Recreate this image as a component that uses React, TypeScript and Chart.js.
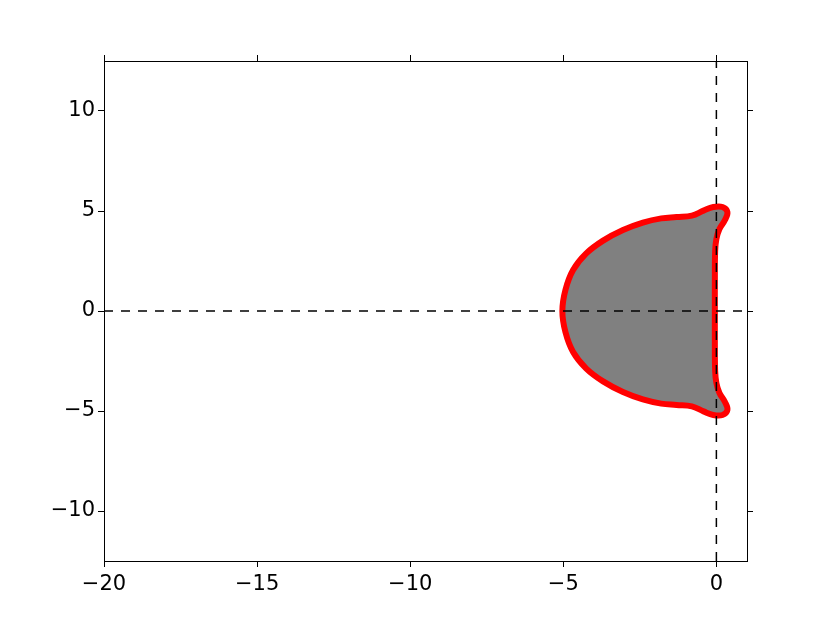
import React, { useEffect, useRef } from "react";
import { Chart, registerables } from "chart.js";

Chart.register(...registerables);

const xTickValues = [-20, -15, -10, -5, 0];
const yTickValues = [-10, -5, 0, 5, 10];

// Boundary of the region (closed path)
const shapeX = [
  -0.05, -0.05, -0.04, 0.0, 0.1, 0.28, 0.36, 0.2, -0.1, -0.42, -0.8, -1.3, -1.8, -2.4, -3.05, -3.7, -4.25, -4.68, -4.93, -5.03,
  -4.93, -4.68, -4.25, -3.7, -3.05, -2.4, -1.8, -1.3, -0.8, -0.42, -0.1, 0.2, 0.36, 0.28, 0.1, 0.0, -0.04, -0.05, -0.05,
];
const shapeY = [
  0, 1.5, 3.0, 3.6, 4.1, 4.55, 4.95, 5.2, 5.2, 5.02, 4.77, 4.7, 4.63, 4.42, 4.05, 3.52, 2.88, 2.05, 1.05, 0,
  -1.05, -2.05, -2.88, -3.52, -4.05, -4.42, -4.63, -4.7, -4.77, -5.02, -5.2, -5.2, -4.95, -4.55, -4.1, -3.6, -3.0, -1.5, 0,
];

const hLineX = [-20, 1];
const hLineY = [0, 0];
const vLineX = [0, 0];
const vLineY = [-12.5, 12.5];

const fmt = (v: any) => String(v).replace("-", "\u2212");
const font = { family: "DejaVu Sans", size: 21 };

function axis(position: string, min: number, max: number, ticksArr: number[], size: number, showLabels: boolean, horizontal: boolean) {
  return {
    type: "linear",
    position,
    min,
    max,
    afterBuildTicks: (s: any) => {
      s.ticks = ticksArr.map((v) => ({ value: v }));
    },
    afterFit: (s: any) => {
      if (horizontal) s.height = size;
      else s.width = size;
    },
    ticks: {
      display: showLabels,
      color: "#000",
      font,
      padding: horizontal ? 5 : 3,
      maxRotation: 0,
      autoSkip: false,
      callback: fmt,
    },
    grid: {
      drawOnChartArea: false,
      drawTicks: true,
      tickLength: 6,
      color: "#000",
      lineWidth: 1,
    },
    border: { display: true, color: "#000", width: 1 },
  };
}

export default function App() {
  const ref = useRef<HTMLCanvasElement>(null);
  useEffect(() => {
    if (!ref.current) return;
    const chart = new Chart(ref.current, {
      type: "scatter",
      data: {
        datasets: [
          {
            data: hLineX.map((x, i) => ({ x, y: hLineY[i] })),
            showLine: true,
            borderColor: "#000",
            borderWidth: 1.5,
            borderDash: [9, 8],
            pointRadius: 0,
            fill: false,
          },
          {
            data: vLineX.map((x, i) => ({ x, y: vLineY[i] })),
            showLine: true,
            borderColor: "#000",
            borderWidth: 1.5,
            borderDash: [9, 8],
            pointRadius: 0,
            fill: false,
          },
          {
            data: shapeX.map((x, i) => ({ x, y: shapeY[i] })),
            showLine: true,
            borderColor: "#ff0000",
            backgroundColor: "#808080",
            borderWidth: 6,
            pointRadius: 0,
            tension: 0.4,
            fill: "shape",
          },
        ],
      } as any,
      options: {
        animation: false,
        responsive: false,
        layout: { padding: 0 },
        plugins: { legend: { display: false }, tooltip: { enabled: false } },
        scales: {
          x: axis("bottom", -20, 1, xTickValues, 62, true, true),
          x2: axis("top", -20, 1, xTickValues, 61, false, true),
          y: axis("left", -12.5, 12.5, yTickValues, 104, true, false),
          y2: axis("right", -12.5, 12.5, yTickValues, 83, false, false),
        } as any,
      },
    });
    return () => chart.destroy();
  }, []);
  return (
    <div style={{ position: "absolute", left: 0, top: 0, width: 830, height: 623, background: "#fff" }}>
      <canvas ref={ref} width={830} height={623} style={{ width: 830, height: 623 }} />
    </div>
  );
}
